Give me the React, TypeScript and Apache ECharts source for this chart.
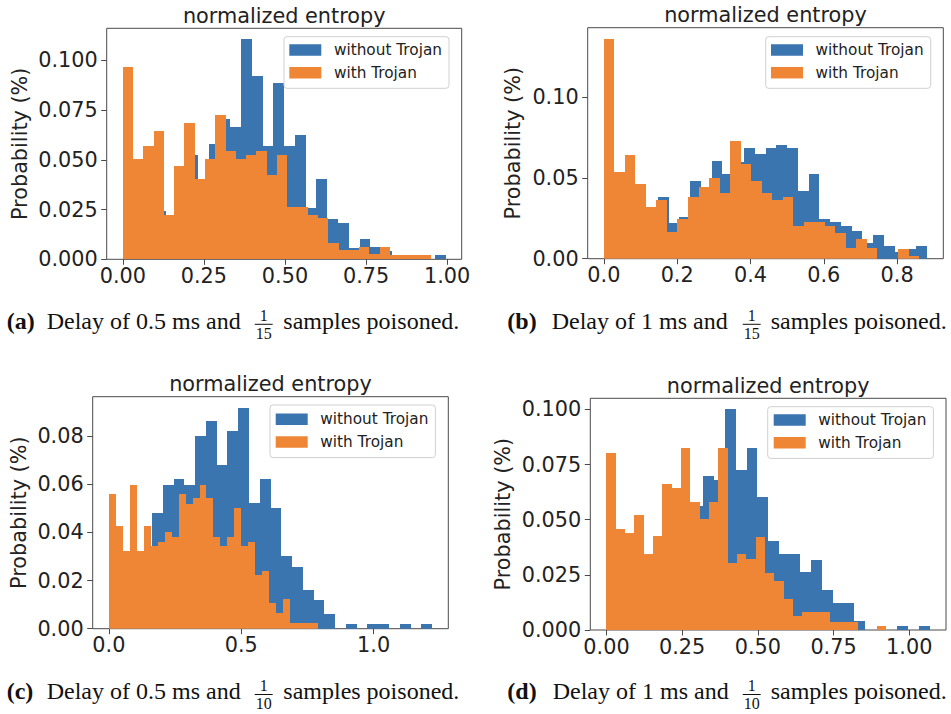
import { useEffect, useRef } from 'react';
import * as echarts from 'echarts';

// ---- data -------------------------------------------------------------
// Histogram heights (30 equal bins per series) over each series' value range.

// (a) delay 0.5 ms, 1/15 poisoned
const aCleanRange = [0, 0.995];
const aClean = [0.030, 0.035, 0.030, 0.0243, 0.020, 0.040, 0.0524, 0.038, 0.058, 0.0705, 0.0665, 0.1106, 0.0923, 0.0568, 0.0886, 0.057, 0.0625, 0.026, 0.0405, 0.0203, 0.018, 0.0055, 0.010, 0.006, 0.0044, 0, 0, 0, 0, 0.0022];
const aTrojanRange = [0, 0.95];
const aTrojan = [0.0965, 0.0503, 0.0568, 0.0645, 0.0224, 0.0467, 0.0683, 0.0405, 0.0503, 0.0725, 0.0544, 0.0503, 0.0524, 0.0544, 0.0424, 0.0524, 0.0265, 0.0265, 0.0223, 0.0206, 0.008, 0.0047, 0.0047, 0.006, 0.0027, 0.006, 0.0022, 0.0022, 0.0022, 0.0022];
const aXTicks = ['0.00', '0.25', '0.50', '0.75', '1.00'];
const aYTicks = ['0.000', '0.025', '0.050', '0.075', '0.100'];

// (b) delay 1 ms, 1/15 poisoned
const bCleanRange = [0, 0.882];
const bClean = [0.035, 0.04, 0.035, 0.03, 0.03, 0.0381, 0.0224, 0.0261, 0.0482, 0.042, 0.0607, 0.0524, 0.06, 0.0689, 0.0648, 0.0689, 0.0706, 0.0689, 0.0422, 0.0524, 0.0244, 0.023, 0.0203, 0.0172, 0.01, 0.0145, 0.0079, 0.004, 0.0058, 0.0079];
const bTrojanRange = [0, 0.861];
const bTrojan = [0.1364, 0.054, 0.0644, 0.0462, 0.0323, 0.0364, 0.0168, 0.0244, 0.0385, 0.0443, 0.0503, 0.0406, 0.0727, 0.0588, 0.0482, 0.0406, 0.0364, 0.038, 0.0205, 0.0226, 0.0226, 0.0205, 0.0157, 0.0064, 0.012, 0.0064, 0, 0, 0.0058, 0.0015];
const bXTicks = ['0.0', '0.2', '0.4', '0.6', '0.8'];
const bYTicks = ['0.00', '0.05', '0.10'];

// (c) delay 0.5 ms, 1/10 poisoned
const cCleanRange = [0, 1.221];
const cClean = [0.03, 0.025, 0.03, 0.028, 0.048, 0.0599, 0.0624, 0.0599, 0.08, 0.0863, 0.0682, 0.0821, 0.0918, 0.0522, 0.0624, 0.0501, 0.0303, 0.0258, 0.0161, 0.0119, 0.0061, 0, 0.002, 0, 0.002, 0.002, 0, 0.002, 0, 0.002];
const cTrojanRange = [0, 0.79];
const cTrojan = [0.056, 0.0428, 0.0321, 0.0599, 0.0321, 0.0425, 0.0342, 0.036, 0.04, 0.0383, 0.056, 0.052, 0.0543, 0.0599, 0.0543, 0.0383, 0.0342, 0.0383, 0.0501, 0.0342, 0.036, 0.0224, 0.024, 0.0106, 0.0067, 0.0122, 0.0022, 0.0022, 0.0022, 0.0022];
const cXTicks = ['0.0', '0.5', '1.0'];
const cYTicks = ['0.00', '0.02', '0.04', '0.06', '0.08'];

// (d) delay 1 ms, 1/10 poisoned
const dCleanRange = [0, 1.068];
const dClean = [0.03, 0.03, 0.035, 0.03, 0.03, 0.04, 0.055, 0.05, 0.056, 0.07, 0.068, 0.1, 0.0724, 0.0823, 0.0603, 0.0402, 0.0345, 0.0345, 0.0265, 0.0318, 0.0182, 0.0121, 0.0121, 0.0042, 0, 0, 0, 0.0018, 0, 0.0018];
const dTrojanRange = [0, 0.924];
const dTrojan = [0.0803, 0.0459, 0.0439, 0.0523, 0.0344, 0.0424, 0.0662, 0.0645, 0.0823, 0.058, 0.0505, 0.058, 0.0823, 0.0303, 0.0344, 0.0321, 0.0421, 0.026, 0.022, 0.0139, 0.0064, 0.0083, 0.0083, 0.0083, 0.0038, 0.0038, 0.0038, 0, 0, 0.0018];
const dXTicks = ['0.00', '0.25', '0.50', '0.75', '1.00'];
const dYTicks = ['0.000', '0.025', '0.050', '0.075', '0.100'];

const SERIES_NAMES = ['without Trojan', 'with Trojan'];
const TITLE = 'normalized entropy';
const Y_NAME = 'Probability (%)';

// ---- styling ----------------------------------------------------------
const BLUE = '#3a75b0';
const ORANGE = '#ef8636';
const SPINE = '#4a4a4a';
const TEXT = '#222222';
const SANS = "'DejaVu Sans', sans-serif";
const SERIF = "'Liberation Serif', 'Times New Roman', serif";
const FS = 20.8;
const LEGEND_FS = 15.3;
const CAP_FS = 24;
const FRAC_FS = 16;

type Panel = {
  clean: number[];
  cleanRange: number[];
  trojan: number[];
  trojanRange: number[];
  xTicks: string[];
  yTicks: string[];
  box: { left: number; top: number; width: number; height: number };
  legend: { left: number; top: number; padding: number[] };
  nameGap: number;
  caption: {
    tag: string;
    lead: string;
    den: string;
    cy: number;
    tagX: number;
    leadX: number;
    fracX: number;
    restX: number;
  };
};

const PANELS: Panel[] = [
  {
    clean: aClean, cleanRange: aCleanRange, trojan: aTrojan, trojanRange: aTrojanRange,
    xTicks: aXTicks, yTicks: aYTicks,
    box: { left: 106.7, top: 28.3, width: 355, height: 231 },
    legend: { left: 284, top: 36.7, padding: [5.3, 7, 7.6, 5.3] },
    nameGap: 76,
    caption: { tag: '(a)', lead: 'Delay of 0.5 ms and', den: '15', cy: 321.2, tagX: 6.7, leadX: 46.7, fracX: 263.7, restX: 283.3 },
  },
  {
    clean: bClean, cleanRange: bCleanRange, trojan: bTrojan, trojanRange: bTrojanRange,
    xTicks: bXTicks, yTicks: bYTicks,
    box: { left: 587.7, top: 27.7, width: 355.6, height: 231 },
    legend: { left: 765.7, top: 36.7, padding: [5.3, 7, 7.6, 5.3] },
    nameGap: 64,
    caption: { tag: '(b)', lead: 'Delay of 1 ms and', den: '15', cy: 321.2, tagX: 507.3, leadX: 551.7, fracX: 751.7, restX: 770.7 },
  },
  {
    clean: cClean, cleanRange: cCleanRange, trojan: cTrojan, trojanRange: cTrojanRange,
    xTicks: cXTicks, yTicks: cYTicks,
    box: { left: 92.7, top: 396.7, width: 355.6, height: 232 },
    legend: { left: 270, top: 405, padding: [6.3, 7, 7.6, 5.7] },
    nameGap: 63,
    caption: { tag: '(c)', lead: 'Delay of 0.5 ms and', den: '10', cy: 691.4, tagX: 6.7, leadX: 46.7, fracX: 263.7, restX: 283.3 },
  },
  {
    clean: dClean, cleanRange: dCleanRange, trojan: dTrojan, trojanRange: dTrojanRange,
    xTicks: dXTicks, yTicks: dYTicks,
    box: { left: 590.3, top: 398.3, width: 355.7, height: 231.7 },
    legend: { left: 767.7, top: 406.7, padding: [5.3, 7, 7.7, 6] },
    nameGap: 76.5,
    caption: { tag: '(d)', lead: 'Delay of 1 ms and', den: '10', cy: 691.4, tagX: 507.3, leadX: 552.7, fracX: 751.7, restX: 770.7 },
  },
];

// Equal-width bins: [left edge, right edge, height]
function toBins(range: number[], heights: number[]) {
  const n = heights.length;
  const w = (range[1] - range[0]) / n;
  return heights.map((h, i) => [range[0] + i * w, range[0] + (i + 1) * w, h]);
}

// Bars snapped to whole pixels so neighbouring bins meet without seams.
function histRender(color: string) {
  return (_params: any, api: any) => {
    const x0 = api.value(0);
    const x1 = api.value(1);
    const h = api.value(2);
    if (!(h > 0)) return null;
    const a = api.coord([x0, h]);
    const b = api.coord([x1, 0]);
    const left = Math.round(a[0]);
    const right = Math.round(b[0]);
    const top = Math.round(a[1]);
    const bottom = Math.round(b[1]);
    return {
      type: 'rect',
      shape: { x: left, y: top, width: right - left, height: bottom - top },
      style: { fill: color },
    };
  };
}

function textEl(text: string, x: number, y: number, font: { size: number; family: string; weight?: string; color?: string }, align = 'left') {
  return {
    type: 'text',
    x,
    y,
    silent: true,
    style: {
      text,
      fontSize: font.size,
      fontFamily: font.family,
      fontWeight: font.weight || 'normal',
      fill: font.color || '#111111',
      align,
      textAlign: align,
      verticalAlign: 'middle',
      textVerticalAlign: 'middle',
    },
  };
}

function buildOption() {
  const grid: any[] = [];
  const xAxis: any[] = [];
  const yAxis: any[] = [];
  const series: any[] = [];
  const legend: any[] = [];
  const elements: any[] = [];

  PANELS.forEach((p, i) => {
    const lo = Math.min(p.cleanRange[0], p.trojanRange[0]);
    const hi = Math.max(p.cleanRange[1], p.trojanRange[1]);
    const pad = (hi - lo) * 0.05;
    const yMax = Math.max(...p.clean, ...p.trojan) * 1.05;
    const xVals = p.xTicks.map(Number);
    const yVals = p.yTicks.map(Number);
    const fmt = (ticks: string[]) => (v: number) => ticks.find((t) => Math.abs(Number(t) - v) < 1e-9) ?? '';

    grid.push({
      left: p.box.left,
      top: p.box.top,
      width: p.box.width,
      height: p.box.height,
      show: true,
      borderColor: SPINE,
      borderWidth: 1,
      backgroundColor: 'transparent',
    });

    xAxis.push({
      type: 'value',
      gridIndex: i,
      position: 'bottom',
      min: lo - pad,
      max: hi + pad,
      axisLine: { show: false, onZero: false },
      splitLine: { show: false },
      axisTick: { show: true, length: 5.5, customValues: xVals, lineStyle: { color: SPINE, width: 1 } },
      axisLabel: {
        customValues: xVals,
        formatter: fmt(p.xTicks),
        margin: 6,
        fontSize: FS,
        fontFamily: SANS,
        color: TEXT,
      },
    });

    yAxis.push({
      type: 'value',
      gridIndex: i,
      position: 'left',
      min: 0,
      max: yMax,
      name: Y_NAME,
      nameLocation: 'middle',
      nameGap: p.nameGap,
      nameTextStyle: { fontSize: FS, fontFamily: SANS, color: TEXT },
      axisLine: { show: false, onZero: false },
      splitLine: { show: false },
      axisTick: { show: true, length: 5.5, customValues: yVals, lineStyle: { color: SPINE, width: 1 } },
      axisLabel: {
        customValues: yVals,
        formatter: fmt(p.yTicks),
        margin: 9,
        fontSize: FS,
        fontFamily: SANS,
        color: TEXT,
      },
    });

    const common = {
      type: 'custom',
      xAxisIndex: i,
      yAxisIndex: i,
      clip: true,
      silent: true,
    };
    series.push({
      ...common,
      name: SERIES_NAMES[0],
      itemStyle: { color: BLUE },
      data: toBins(p.cleanRange, p.clean),
      renderItem: histRender(BLUE),
    });
    series.push({
      ...common,
      name: SERIES_NAMES[1],
      itemStyle: { color: ORANGE },
      data: toBins(p.trojanRange, p.trojan),
      renderItem: histRender(ORANGE),
    });

    legend.push({
      orient: 'vertical',
      left: p.legend.left,
      top: p.legend.top,
      padding: p.legend.padding,
      itemWidth: 32,
      itemHeight: 11.5,
      itemGap: 6.7,
      selectedMode: false,
      backgroundColor: 'rgba(255,255,255,0.8)',
      borderColor: '#d0d0d0',
      borderWidth: 1,
      borderRadius: 3,
      textStyle: {
        fontSize: LEGEND_FS,
        fontFamily: SANS,
        color: TEXT,
        lineHeight: 16,
        padding: [0, 0, 0, 7.6],
      },
      data: SERIES_NAMES.map((name) => ({ name, icon: 'rect' })),
    });

    // panel title
    elements.push(textEl(TITLE, p.box.left + p.box.width / 2, p.box.top - 12.8, { size: FS, family: SANS, color: TEXT }, 'center'));

    // sub-figure caption with stacked fraction
    const c = p.caption;
    elements.push(textEl(c.tag, c.tagX, c.cy, { size: CAP_FS, family: SERIF, weight: 'bold' }));
    elements.push(textEl(c.lead, c.leadX, c.cy, { size: CAP_FS, family: SERIF }));
    elements.push(textEl('1', c.fracX, c.cy - 6.2, { size: FRAC_FS, family: SERIF }, 'center'));
    elements.push({
      type: 'line',
      silent: true,
      shape: { x1: c.fracX - 9, y1: c.cy + 3.1, x2: c.fracX + 9, y2: c.cy + 3.1 },
      style: { stroke: '#111111', lineWidth: 1 },
    });
    elements.push(textEl(c.den, c.fracX, c.cy + 12.5, { size: FRAC_FS, family: SERIF }, 'center'));
    elements.push(textEl('samples poisoned.', c.restX, c.cy, { size: CAP_FS, family: SERIF }));
  });

  return {
    animation: false,
    backgroundColor: '#ffffff',
    grid,
    xAxis,
    yAxis,
    series,
    legend,
    graphic: { elements },
  };
}

export default function App() {
  const ref = useRef<HTMLDivElement>(null);

  useEffect(() => {
    if (!ref.current) return;
    const chart = echarts.init(ref.current, null, { renderer: 'svg' });
    chart.setOption(buildOption() as any);
    return () => chart.dispose();
  }, []);

  return (
    <div
      ref={ref}
      style={{ position: 'absolute', left: 0, top: 0, width: 951, height: 714, background: '#fff' }}
    />
  );
}
